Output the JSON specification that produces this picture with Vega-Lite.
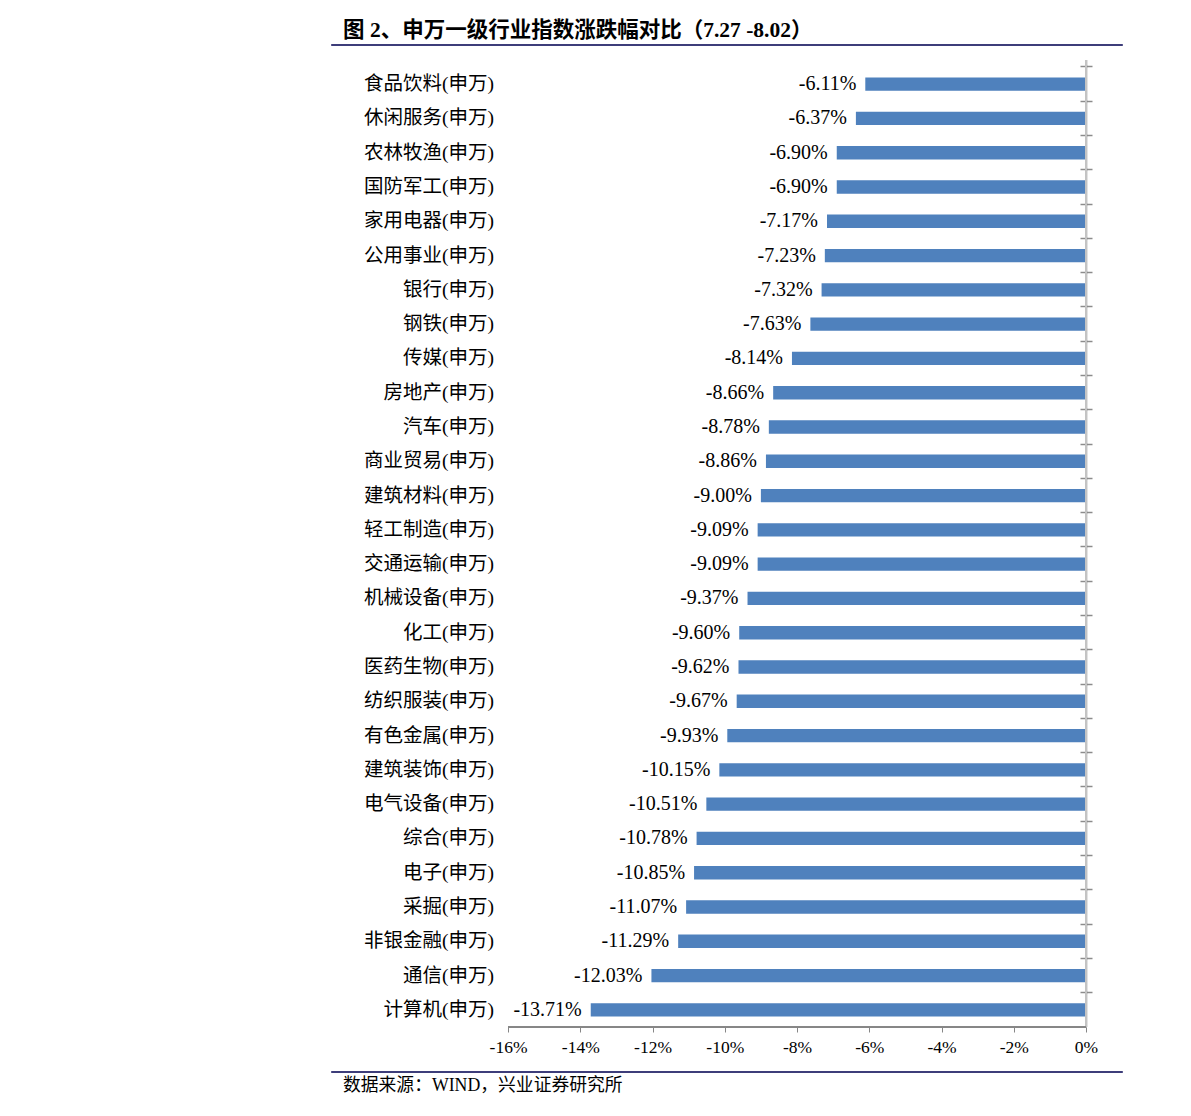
{
  "$schema": "https://vega.github.io/schema/vega-lite/v6.json",
  "padding": {"left": 330, "top": 19, "right": 0, "bottom": 0},
  "spacing": 9,
  "config": {
    "view": {"stroke": null},
    "locale": {"number": {"decimal": ".", "thousands": ",", "grouping": [3], "currency": ["", ""], "minus": "-"}}
  },
  "data": {"values": [
    {"industry": "食品饮料(申万)", "change": -0.0611},
    {"industry": "休闲服务(申万)", "change": -0.0637},
    {"industry": "农林牧渔(申万)", "change": -0.0690},
    {"industry": "国防军工(申万)", "change": -0.0690},
    {"industry": "家用电器(申万)", "change": -0.0717},
    {"industry": "公用事业(申万)", "change": -0.0723},
    {"industry": "银行(申万)", "change": -0.0732},
    {"industry": "钢铁(申万)", "change": -0.0763},
    {"industry": "传媒(申万)", "change": -0.0814},
    {"industry": "房地产(申万)", "change": -0.0866},
    {"industry": "汽车(申万)", "change": -0.0878},
    {"industry": "商业贸易(申万)", "change": -0.0886},
    {"industry": "建筑材料(申万)", "change": -0.0900},
    {"industry": "轻工制造(申万)", "change": -0.0909},
    {"industry": "交通运输(申万)", "change": -0.0909},
    {"industry": "机械设备(申万)", "change": -0.0937},
    {"industry": "化工(申万)", "change": -0.0960},
    {"industry": "医药生物(申万)", "change": -0.0962},
    {"industry": "纺织服装(申万)", "change": -0.0967},
    {"industry": "有色金属(申万)", "change": -0.0993},
    {"industry": "建筑装饰(申万)", "change": -0.1015},
    {"industry": "电气设备(申万)", "change": -0.1051},
    {"industry": "综合(申万)", "change": -0.1078},
    {"industry": "电子(申万)", "change": -0.1085},
    {"industry": "采掘(申万)", "change": -0.1107},
    {"industry": "非银金融(申万)", "change": -0.1129},
    {"industry": "通信(申万)", "change": -0.1203},
    {"industry": "计算机(申万)", "change": -0.1371}
  ]},
  "vconcat": [
    {
      "width": 791,
      "height": 1,
      "view": {"stroke": "#3d3d7a", "strokeWidth": 1, "fill": "#3d3d7a"},
      "title": {
        "text": "图 2、申万一级行业指数涨跌幅对比（7.27 -8.02）",
        "anchor": "start",
        "orient": "top",
        "dx": 12,
        "offset": -3,
        "font": "Liberation Serif, Noto Sans CJK SC",
        "fontSize": 21.5,
        "fontWeight": "bold",
        "color": "#000000"
      },
      "mark": {"type": "text", "opacity": 0},
      "encoding": {"text": {"value": ""}}
    },
    {
      "width": 791,
      "height": 967,
      "layer": [
        {
          "mark": {"type": "bar", "color": "#4f81bd", "height": {"band": 0.39}},
          "encoding": {
            "y": {
              "field": "industry", "type": "nominal", "sort": null,
              "scale": {"paddingInner": 0, "paddingOuter": 0.102, "align": 1},
              "axis": {
                "orient": "right", "offset": -42, "labels": false, "domain": false,
                "ticks": true, "tickSize": 12, "tickColor": "#8c8c8c", "tickWidth": 1.5,
                "bandPosition": 0, "title": null, "grid": false
              }
            },
            "x": {
              "field": "change", "type": "quantitative",
              "scale": {"domain": [-0.209, 0.00996], "nice": false, "zero": false},
              "axis": {
                "orient": "bottom",
                "values": [-0.16, -0.14, -0.12, -0.10, -0.08, -0.06, -0.04, -0.02, 0],
                "format": ".0%", "domain": false, "grid": false,
                "tickSize": 5, "tickColor": "#868686", "tickWidth": 1,
                "labelFont": "Liberation Serif", "labelFontSize": 17.5, "labelColor": "#000000",
                "labelPadding": 6, "title": null
              }
            }
          }
        },
        {
          "mark": {"type": "rule", "color": "#c4c4c4", "strokeWidth": 2},
          "encoding": {"x": {"datum": 0}}
        },
        {
          "mark": {"type": "rule", "color": "#868686", "strokeWidth": 1},
          "encoding": {
            "x": {"datum": -0.16},
            "x2": {"datum": 0},
            "y": {"datum": "计算机(申万)", "type": "nominal", "bandPosition": 1}
          }
        },
        {
          "mark": {"type": "text", "align": "right", "baseline": "middle", "dx": -9, "font": "Liberation Serif", "fontSize": 20, "color": "#000000"},
          "encoding": {
            "y": {"field": "industry", "type": "nominal", "sort": null},
            "x": {"field": "change", "type": "quantitative"},
            "text": {"field": "change", "type": "quantitative", "format": ".2%"}
          }
        },
        {
          "mark": {"type": "text", "align": "right", "baseline": "middle", "dx": -14, "font": "Liberation Serif, Noto Sans CJK SC", "fontSize": 19.5, "color": "#000000"},
          "encoding": {
            "y": {"field": "industry", "type": "nominal", "sort": null},
            "x": {"datum": -0.16},
            "text": {"field": "industry", "type": "nominal"}
          }
        }
      ]
    },
    {
      "width": 791,
      "height": 1,
      "view": {"stroke": "#3d3d7a", "strokeWidth": 1, "fill": "#3d3d7a"},
      "title": {
        "text": "数据来源：WIND，兴业证券研究所",
        "anchor": "start",
        "orient": "bottom",
        "dx": 12,
        "offset": 0,
        "font": "Liberation Serif, Noto Sans CJK SC",
        "fontSize": 17.8,
        "fontWeight": "normal",
        "color": "#000000"
      },
      "mark": {"type": "text", "opacity": 0},
      "encoding": {"text": {"value": ""}}
    }
  ]
}
